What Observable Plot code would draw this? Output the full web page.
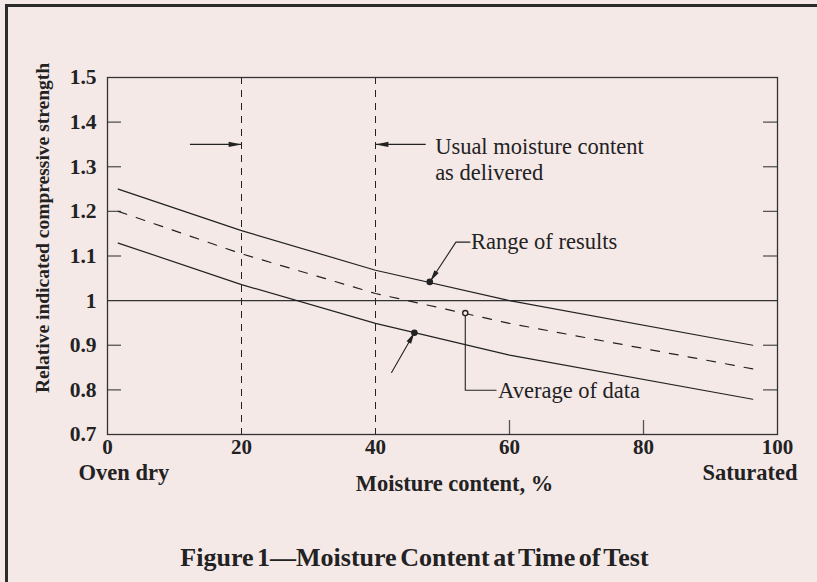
<!DOCTYPE html>
<html><head><meta charset="utf-8">
<script src="https://cdn.jsdelivr.net/npm/d3@7"></script>
<script src="https://cdn.jsdelivr.net/npm/@observablehq/plot@0.6"></script>
<style>
html,body{margin:0;padding:0;background:#f5e9e8;width:817px;height:582px;overflow:hidden}
#border{position:absolute;left:5px;top:4px;width:900px;height:700px;border-left:3px solid #2b2b2b;border-top:3px solid #2b2b2b;}
#chart{position:absolute;left:0;top:0}
#title{position:absolute;left:0;width:829px;top:543px;text-align:center;font:bold 26px "Liberation Serif",serif;word-spacing:-3px;color:#222}
</style></head>
<body><div id="border"></div><div id="chart"></div><div id="title">Figure 1—Moisture Content at Time of Test</div>
<script>
// ---- data ----
const xTicks = [0, 20, 40, 60, 80, 100];
const yTicks = [0.7, 0.8, 0.9, 1.0, 1.1, 1.2, 1.3, 1.4, 1.5];
const yTickLabels = ["0.7", "0.8", "0.9", "1", "1.1", "1.2", "1.3", "1.4", "1.5"];
const innerYTicks = [0.8, 0.9, 1.1, 1.2, 1.3, 1.4];
const innerXTicks = [60, 80];
const curveX = [1.6, 20, 40, 60, 96.3];
const upperRange = [1.25, 1.157, 1.068, 1.0, 0.90];
const averageData = [1.2, 1.105, 1.016, 0.949, 0.847];
const lowerRange = [1.129, 1.036, 0.949, 0.878, 0.779];
const deliveredBounds = [20, 40];
const referenceLevel = 1.0;
const arrowFromX = [12.3, 47.5];
const arrowToX = [20, 40];
const arrowY = [1.35, 1.35];
const rangeLeaderX = [54.1, 52.0, 48.2];
const rangeLeaderY = [1.131, 1.131, 1.044];
const lowLeaderX = [42.4, 45.8];
const lowLeaderY = [0.839, 0.928];
const avgLeaderX = [53.4, 53.4, 58.0];
const avgLeaderY = [0.972, 0.799, 0.799];
const rangeDotX = [48.1, 45.8];
const rangeDotY = [1.042, 0.928];
const avgDotX = [53.4];
const avgDotY = [0.972];

// ---- layout ----
const W = 817, H = 510, mL = 107, mR = 40, mT = 77, mB = 76;
const frameW = W - mL - mR, frameH = H - mT - mB;
const ink = "#222";
const font = "Liberation Serif";

const sx = Plot.scale({x: {domain: [0, 100], range: [mL, W - mR]}});
const sy = Plot.scale({y: {domain: [0.7, 1.5], range: [H - mB, mT]}});
function angle(x1, y1, x2, y2) {
  const dx = sx.apply(x2) - sx.apply(x1), dy = sy.apply(y2) - sy.apply(y1);
  return Math.atan2(dx, -dy) * 180 / Math.PI;
}
const heads = [
  {x: arrowToX[0], y: arrowY[0], r: angle(arrowFromX[0], arrowY[0], arrowToX[0], arrowY[0]), len: 15},
  {x: arrowToX[1], y: arrowY[1], r: angle(arrowFromX[1], arrowY[1], arrowToX[1], arrowY[1]), len: 15},
  {x: rangeLeaderX[2], y: rangeLeaderY[2], r: angle(rangeLeaderX[1], rangeLeaderY[1], rangeLeaderX[2], rangeLeaderY[2]), len: 13},
  {x: lowLeaderX[1], y: lowLeaderY[1], r: angle(lowLeaderX[0], lowLeaderY[0], lowLeaderX[1], lowLeaderY[1]), len: 13}
];
const headShape = {draw(ctx, l) { ctx.moveTo(0, 0); ctx.lineTo(-2.6, l); ctx.lineTo(2.6, l); ctx.closePath(); }};

const curveRows = curveX.flatMap((x, i) => [
  {x, y: upperRange[i], s: "upper"},
  {x, y: averageData[i], s: "average"},
  {x, y: lowerRange[i], s: "lower"}
]);

const chart = Plot.plot({
  width: W, height: H,
  marginLeft: mL, marginRight: mR, marginTop: mT, marginBottom: mB,
  style: {background: "transparent", fontFamily: font, color: ink, overflow: "visible"},
  x: {domain: [0, 100]},
  y: {domain: [0.7, 1.5]},
  marks: [
    Plot.ruleX(deliveredBounds, {stroke: ink, strokeWidth: 1, strokeDasharray: "7,6"}),
    Plot.ruleY([referenceLevel], {stroke: "#333", strokeWidth: 1.3}),
    Plot.tickY(innerYTicks, {y: d => d, insetRight: frameW - 14, stroke: "#555", strokeWidth: 1.3}),
    Plot.tickY(innerYTicks, {y: d => d, insetLeft: frameW - 14, stroke: "#555", strokeWidth: 1.3}),
    Plot.tickX(innerXTicks, {x: d => d, insetTop: frameH - 14, stroke: "#555", strokeWidth: 1.3}),
    Plot.line(curveRows.filter(d => d.s !== "average"), {x: "x", y: "y", z: "s", stroke: ink, strokeWidth: 1.2}),
    Plot.line(curveRows.filter(d => d.s === "average"), {x: "x", y: "y", stroke: ink, strokeWidth: 1.2, strokeDasharray: "9,10"}),
    Plot.link([0, 1], {x1: i => arrowFromX[i], x2: i => arrowToX[i], y1: i => arrowY[i], y2: i => arrowY[i], stroke: ink, strokeWidth: 1.2}),
    Plot.line(rangeLeaderX.map((x, i) => ({x, y: rangeLeaderY[i]})), {x: "x", y: "y", stroke: ink, strokeWidth: 1.1}),
    Plot.line(lowLeaderX.map((x, i) => ({x, y: lowLeaderY[i]})), {x: "x", y: "y", stroke: ink, strokeWidth: 1.1}),
    Plot.line(avgLeaderX.map((x, i) => ({x, y: avgLeaderY[i]})), {x: "x", y: "y", stroke: ink, strokeWidth: 1.1}),
    Plot.vector(heads, {x: "x", y: "y", rotate: "r", length: d => d.len, anchor: "start", shape: headShape, fill: ink, stroke: "none"}),
    Plot.dot(rangeDotX.map((x, i) => ({x, y: rangeDotY[i]})), {x: "x", y: "y", r: 3.3, fill: ink, stroke: "none"}),
    Plot.dot(avgDotX.map((x, i) => ({x, y: avgDotY[i]})), {x: "x", y: "y", r: 2.6, fill: "#f5e9e8", stroke: ink, strokeWidth: 1.4}),
    Plot.text(["Usual moisture content\nas delivered"], {x: [48.9], y: [1.35], textAnchor: "start", lineAnchor: "top", dy: -9, lineHeight: 1.16, fontSize: 22.5, fill: ink}),
    Plot.text(["Range of results"], {x: [rangeLeaderX[0]], y: [rangeLeaderY[0]], textAnchor: "start", dx: 1, fontSize: 22.5, fill: ink}),
    Plot.text(["Average of data"], {x: [avgLeaderX[2]], y: [avgLeaderY[2]], textAnchor: "start", dx: 2, fontSize: 22.5, fill: ink}),
    Plot.frame({stroke: "#333", strokeWidth: 1.3}),
    Plot.axisY(yTicks, {tickSize: 0, tickPadding: 11, tickFormat: d => yTickLabels[yTicks.indexOf(d)], fontSize: 21.5, fontWeight: "bold", label: null, fill: ink}),
    Plot.axisX(xTicks, {tickSize: 0, tickPadding: 5, fontSize: 21, fontWeight: "bold", label: null, fill: ink}),
    Plot.text(["Oven dry"], {x: [0], frameAnchor: "bottom", textAnchor: "start", dx: -29, dy: 45, fontSize: 22.5, fontWeight: "bold", fill: ink}),
    Plot.text(["Saturated"], {x: [100], frameAnchor: "bottom", textAnchor: "end", dx: 20, dy: 45, fontSize: 22.5, fontWeight: "bold", fill: ink}),
    Plot.text(["Moisture content, %"], {frameAnchor: "bottom", textAnchor: "middle", dx: 12, dy: 56, fontSize: 22.5, fontWeight: "bold", fill: ink}),
    Plot.text(["Relative indicated compressive strength"], {frameAnchor: "left", textAnchor: "middle", rotate: -90, dx: -65, dy: -28, fontSize: 19.5, fontWeight: "bold", fill: ink})
  ]
});
document.getElementById("chart").appendChild(chart);
</script>
</body></html>
